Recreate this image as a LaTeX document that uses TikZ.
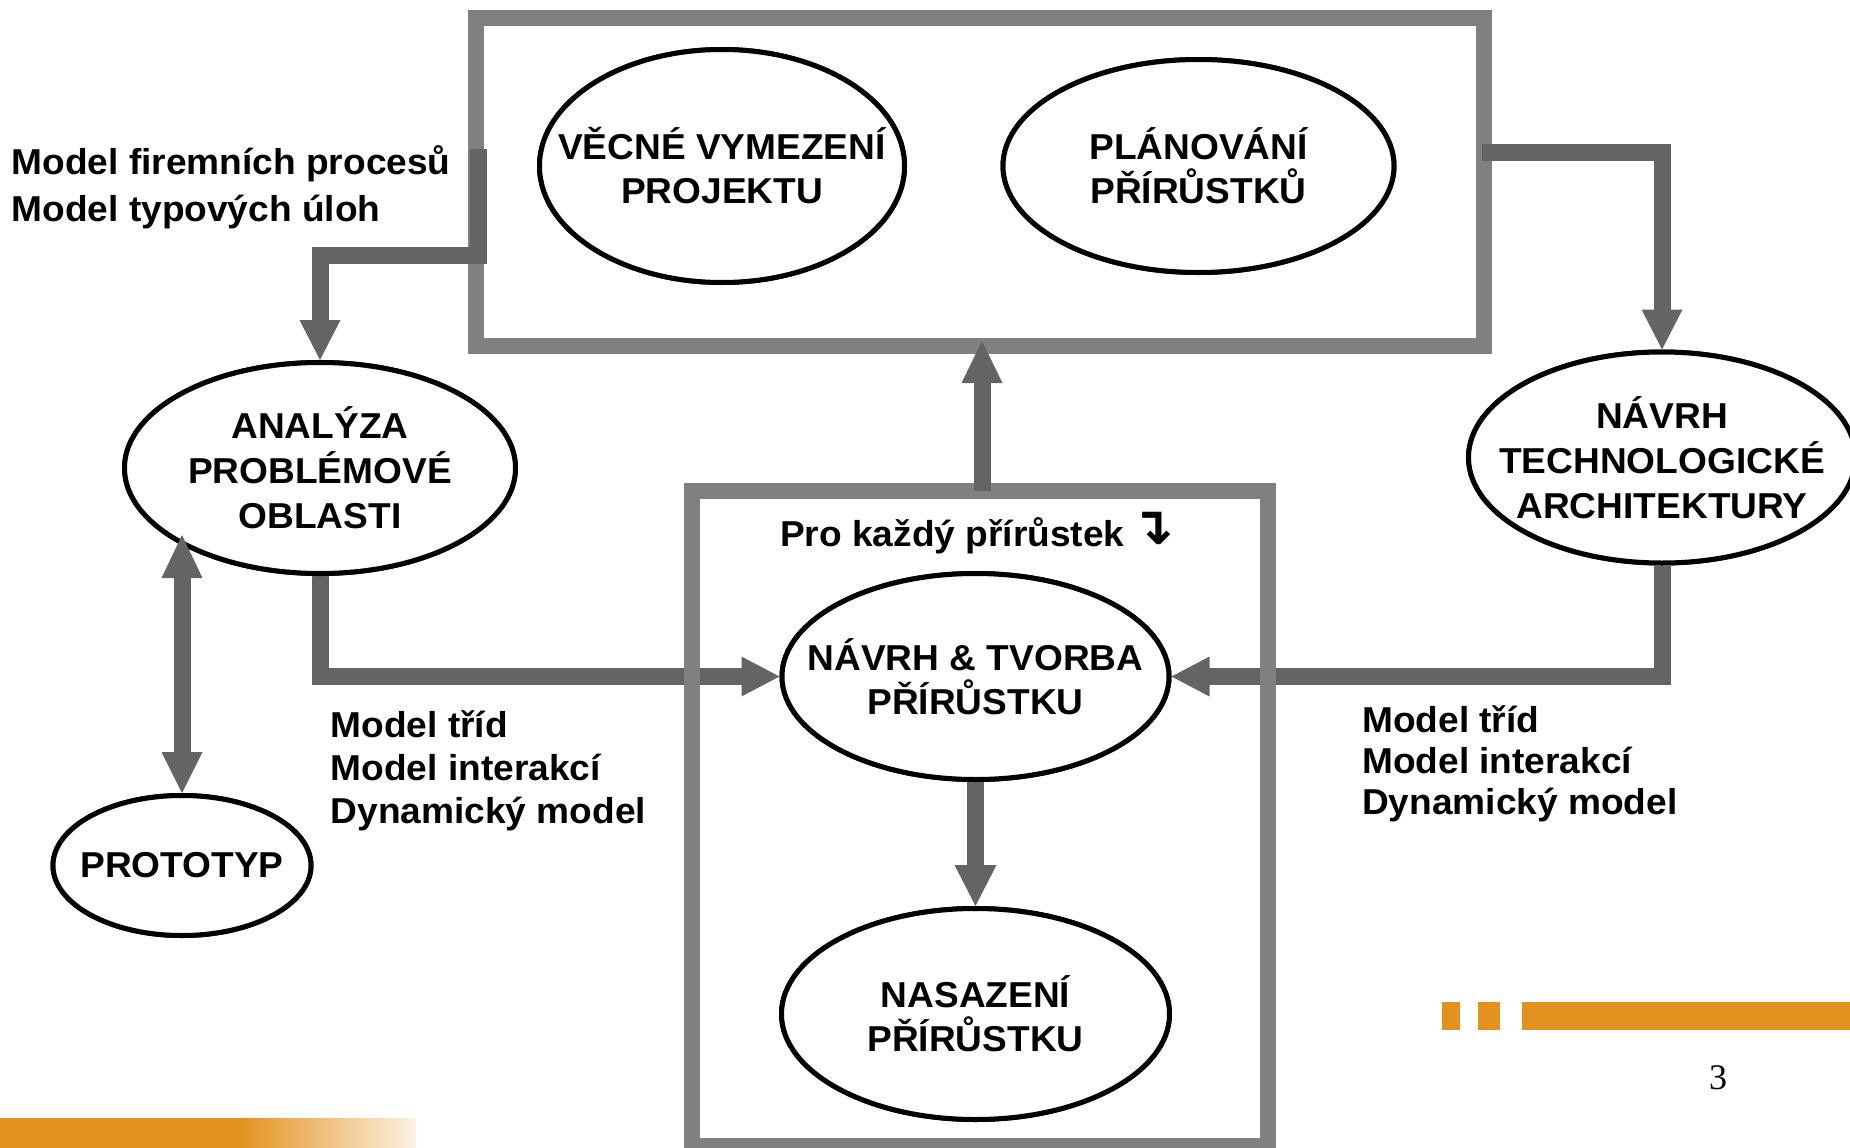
\documentclass[tikz,border=0pt]{standalone}
\usepackage{fontspec}
\setmainfont{Liberation Sans}[FakeStretch=1.03]
\newfontfamily\symfont{DejaVu Sans}
\newfontfamily\serifnum{Liberation Serif}
\usetikzlibrary{calc,shapes.geometric}
\definecolor{boxgray}{HTML}{808080}
\definecolor{arrowgray}{HTML}{646464}
\definecolor{orng}{RGB}{227,146,32}
\begin{document}
\begin{tikzpicture}[x=1pt,y=-1pt,
  ell/.style={ellipse, draw=black, line width=5pt, fill=white, inner sep=0pt},
  etext/.style={align=center, inner sep=0pt, font=\bfseries\fontsize{36}{44}\selectfont},
  etextthree/.style={align=center, inner sep=0pt, font=\bfseries\fontsize{36}{45}\selectfont},
  boxframe/.style={draw=boxgray, line width=16pt, inner sep=0pt, outer sep=0pt},
  arrshaft/.style={draw=arrowgray, line width=17pt, line join=miter},
  arrhead/.style={fill=arrowgray},
  lbl/.style={anchor=base west, inner sep=0pt, font=\bfseries\fontsize{36}{44}\selectfont},
]
\useasboundingbox (0,0) rectangle (1850,1148);
\clip (0,0) rectangle (1850,1148);

% ellipses (positions)
\node[ell, minimum width=365pt, minimum height=233pt] (vecne) at (722,166) {};
\node[ell, minimum width=391pt, minimum height=213pt] (plan) at (1198.5,166) {};
\node[ell, minimum width=391pt, minimum height=211pt] (analyza) at (320,468) {};
\node[ell, minimum width=258pt, minimum height=140pt] (proto) at (182,865.5) {};
\node[ell, minimum width=387pt, minimum height=206pt] (navrh) at (975.5,676.5) {};
\node[ell, minimum width=388pt, minimum height=211pt] (nasaz) at (975.5,1014) {};
\node[ell, minimum width=387pt, minimum height=211pt] (tech) at (1662,457.5) {};

% arrows passing behind the lower frame
\draw[arrshaft] (analyza.south) |- ($(navrh.west)+(-37,0)$);
\fill[arrhead] (navrh.west) -- ++(-38,-20) -- ++(0,40) -- cycle;
\draw[arrshaft] (tech.south) |- ($(navrh.east)+(37,0)$);
\fill[arrhead] (navrh.east) -- ++(38,-20) -- ++(0,40) -- cycle;

% frames
\node[boxframe, minimum width=1008.5pt, minimum height=328pt] (topbox) at (980,182) {};
\node[boxframe, minimum width=576.5pt, minimum height=655pt] (botbox) at (980,818.5) {};

% redraw ellipses on top
\node[ell, minimum width=365pt, minimum height=233pt] at (vecne) {};
\node[ell, minimum width=391pt, minimum height=213pt] at (plan) {};
\node[ell, minimum width=391pt, minimum height=211pt] at (analyza) {};
\node[ell, minimum width=258pt, minimum height=140pt] at (proto) {};
\node[ell, minimum width=387pt, minimum height=206pt] at (navrh) {};
\node[ell, minimum width=388pt, minimum height=211pt] at (nasaz) {};
\node[ell, minimum width=387pt, minimum height=211pt] at (tech) {};

% ellipse texts
\node[etext] (vecne-t) at (vecne.center) {VĚCNÉ VYMEZENÍ\\PROJEKTU};
\node[etext] (plan-t) at (plan.center) {PLÁNOVÁNÍ\\PŘÍRŮSTKŮ};
\node[etextthree] (analyza-t) at (analyza.center) {ANALÝZA\\PROBLÉMOVÉ\\OBLASTI};
\node[etext] (proto-t) at (proto.center) {PROTOTYP};
\node[etext] (navrh-t) at (navrh.center) {NÁVRH \& TVORBA\\PŘÍRŮSTKU};
\node[etext] (nasaz-t) at (nasaz.center) {NASAZENÍ\\PŘÍRŮSTKU};
\node[etextthree] (tech-t) at (tech.center) {NÁVRH\\TECHNOLOGICKÉ\\ARCHITEKTURY};

% arrows
\coordinate (a0) at (478,149);
\coordinate (a1) at (478,255);
\draw[arrshaft] (a0) -- (a1) -| ($(analyza.north)+(0,-37)$);
\fill[arrhead] (analyza.north) -- ++(-20.5,-40) -- ++(41,0) -- cycle;

\coordinate (b0) at (1482,152);
\draw[arrshaft] (b0) -| ($(tech.north)+(0,-37)$);
\fill[arrhead] (tech.north) -- ++(-20.5,-40) -- ++(41,0) -- cycle;

\coordinate (c1) at ($(topbox.south)+(2,-5)$);
\draw[arrshaft] (botbox.north -| c1) -- ($(c1)+(0,40)$);
\fill[arrhead] (c1) -- ++(-20.5,42) -- ++(41,0) -- cycle;

\draw[arrshaft] (navrh.south) -- ($(nasaz.north)+(0,-38)$);
\fill[arrhead] (nasaz.north) -- ++(-21,-41) -- ++(42,0) -- cycle;

\coordinate (g0) at (182,535);
\draw[arrshaft] ($(g0)+(0,40)$) -- ($(proto.north)+(0,-38)$);
\fill[arrhead] (g0) -- ++(-20.5,43) -- ++(41,0) -- cycle;
\fill[arrhead] (proto.north) -- ++(-20.5,-41) -- ++(41,0) -- cycle;

% labels
\node[lbl] (l1a) at (11.5,174) {Model firemních procesů};
\node[lbl] (l1b) at (11.5,221) {Model typových úloh};
\node[lbl] (l2a) at (330.5,737) {Model tříd};
\node[lbl] (l2b) at (330.5,780) {Model interakcí};
\node[lbl] (l2c) at (330.5,823) {Dynamický model};
\node[lbl] (l3a) at (1362,732) {Model tříd};
\node[lbl] (l3b) at (1362,773) {Model interakcí};
\node[lbl] (l3c) at (1362,814) {Dynamický model};
\node[lbl] (pro) at (780,546.7) {Pro každý přírůstek\hspace{6pt}{\symfont\bfseries\fontsize{52}{52}\selectfont\raisebox{2pt}{↴}}};

% decoration
\fill[orng] (0,1118) rectangle (240,1148);
\shade[left color=orng, right color=orng!12] (239,1118) rectangle (416,1148);
\fill[orng] (1442,1002) rectangle (1460,1030);
\fill[orng] (1478,1002) rectangle (1500,1030);
\fill[orng] (1522,1002) rectangle (1850,1030);
\node[anchor=base, inner sep=0pt, font=\serifnum\fontsize{36}{40}\selectfont] (pnum) at (1718,1089.5) {3};
\end{tikzpicture}
\end{document}
